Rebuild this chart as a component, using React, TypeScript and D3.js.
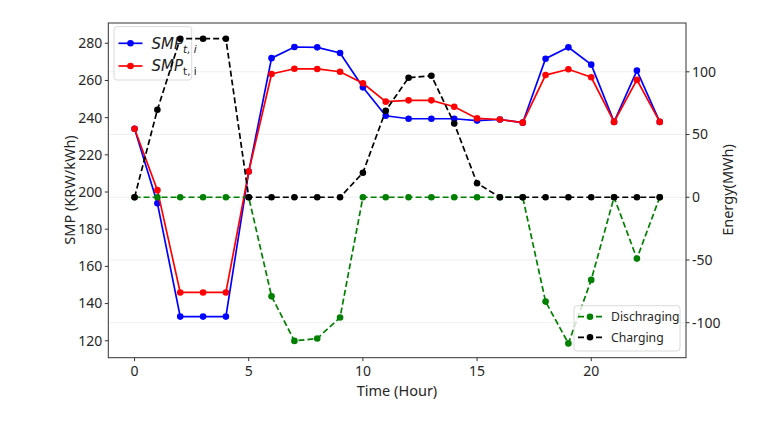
import * as d3 from 'd3';

// hours 0..23
const hours = d3.range(24);

// SMP (KRW/kWh), left axis
const smpForecast = [234, 194, 133, 133, 133, 211, 272, 278, 277.8, 274.8, 256.3, 241, 239.4, 239.4, 239.4, 238.4, 239, 237.3, 271.7, 277.8, 268.5, 237.7, 265.3, 237.7];
const smpActual = [234, 201, 146, 146, 146, 211, 263.5, 266.3, 266.2, 264.7, 258.5, 248.6, 249.3, 249.3, 245.9, 239.6, 239, 237.3, 262.9, 266, 261.7, 237.7, 260.3, 237.7];

// Energy (MWh), right axis
const discharging = [0, 0, 0, 0, 0, 0, -79, -114.5, -112.6, -95.8, 0, 0, 0, 0, 0, 0, 0, 0, -83.2, -116.5, -65.9, 0, -48.9, 0];
const charging = [0, 69.8, 126.4, 126.4, 126.4, 0, 0, 0, 0, 0, 19.5, 69, 95.3, 96.9, 58.8, 11.2, 0, 0, 0, 0, 0, 0, 0, 0];

const xTicks = [0, 5, 10, 15, 20];
const leftTicks = [120, 140, 160, 180, 200, 220, 240, 260, 280];
const rightTicks = [-100, -50, 0, 50, 100];

const W = 776;
const H = 421;
const font = '"Noto Sans", "Open Sans", sans-serif';

export default function App() {
  const left = 108.3, right = 686, top = 23, bottom = 357.7;
  const x = d3.scaleLinear().domain([-1.15, 24.15]).range([left, right]);
  const yL = d3.scaleLinear().domain([110.9, 290.9]).range([bottom, top]);
  const yR = d3.scaleLinear().domain([-127.9, 138.9]).range([bottom, top]);

  const lineL = d3.line<number>().x((_, i) => x(hours[i])).y((d) => yL(d));
  const lineR = d3.line<number>().x((_, i) => x(hours[i])).y((d) => yR(d));

  const series = (vals: number[], gen: d3.Line<number>, y: d3.ScaleLinear<number, number>, color: string, dashed: boolean) => (
    <g>
      <path d={gen(vals) || ''} fill="none" stroke={color} strokeWidth={1.7} strokeDasharray={dashed ? '6 3' : undefined} />
      {vals.map((v, i) => (
        <circle key={i} cx={x(hours[i])} cy={y(v)} r={3.3} fill={color} />
      ))}
    </g>
  );

  const legendItem = (lx: number, ly: number, color: string, dashed: boolean) => (
    <g>
      <line x1={lx} x2={lx + 24} y1={ly} y2={ly} stroke={color} strokeWidth={1.7} strokeDasharray={dashed ? '6 3' : undefined} />
      <circle cx={lx + 12} cy={ly} r={3.3} fill={color} />
    </g>
  );

  return (
    <svg width={W} height={H} style={{ position: 'absolute', left: 0, top: 0, background: '#fff' }} fontFamily={font}>
      {/* grid from right axis */}
      {rightTicks.map((t) => (
        <line key={t} x1={left} x2={right} y1={yR(t)} y2={yR(t)} stroke="#d8d8d8" strokeWidth={0.8} strokeDasharray="1 1" />
      ))}

      {series(smpForecast, lineL, yL, '#0000ff', false)}
      {series(smpActual, lineL, yL, '#ff0000', false)}

      {/* left legend */}
      <rect x={114} y={26.7} width={77.7} height={53.3} rx={3} fill="#fff" fillOpacity={0.8} stroke="#d0d0d0" strokeWidth={0.8} />
      {legendItem(118.5, 43.3, '#0000ff', false)}
      {legendItem(118.5, 66, '#ff0000', false)}
      <text x={151.5} y={48.5} fontSize={15} fill="#222" fontStyle="italic" fontFamily="'DejaVu Sans', sans-serif">
        SMP<tspan fontSize={10.5} dy={4}>t, i</tspan>
      </text>
      <text x={151.5} y={71.2} fontSize={15} fill="#222" fontFamily="'DejaVu Sans', sans-serif">
        <tspan fontStyle="italic">SMP</tspan><tspan fontSize={10.5} dy={4}>t, i</tspan>
      </text>

      {series(discharging, lineR, yR, '#008000', true)}
      {series(charging, lineR, yR, '#000000', true)}

      {/* frame */}
      <rect x={left} y={top} width={right - left} height={bottom - top} fill="none" stroke="#333" strokeWidth={1} />

      {/* x axis */}
      {xTicks.map((t) => (
        <g key={t}>
          <line x1={x(t)} x2={x(t)} y1={bottom} y2={bottom + 3.5} stroke="#333" />
          <text x={x(t)} y={bottom + 18} fontSize={14} textAnchor="middle" fill="#262626">{t}</text>
        </g>
      ))}
      <text x={397} y={396} fontSize={14.5} textAnchor="middle" fill="#262626">Time (Hour)</text>

      {/* left axis */}
      {leftTicks.map((t) => (
        <g key={t}>
          <line x1={left - 3.5} x2={left} y1={yL(t)} y2={yL(t)} stroke="#333" />
          <text x={left - 6} y={yL(t)} dy="0.35em" fontSize={14} textAnchor="end" fill="#262626">{t}</text>
        </g>
      ))}
      <text transform={`translate(75,190) rotate(-90)`} fontSize={14.5} textAnchor="middle" fill="#262626">SMP (KRW/kWh)</text>

      {/* right axis */}
      {rightTicks.map((t) => (
        <g key={t}>
          <line x1={right} x2={right + 3.5} y1={yR(t)} y2={yR(t)} stroke="#333" />
          <text x={right + 6} y={yR(t)} dy="0.35em" fontSize={14} textAnchor="start" fill="#262626">{t}</text>
        </g>
      ))}
      <text transform={`translate(733,190) rotate(-90)`} fontSize={14.5} textAnchor="middle" fill="#262626">Energy(MWh)</text>

      {/* right legend */}
      <rect x={574} y={305.7} width={106} height={45.3} rx={3} fill="#fff" fillOpacity={0.8} stroke="#d0d0d0" strokeWidth={0.8} />
      {legendItem(578, 316.7, '#008000', true)}
      {legendItem(578, 337.3, '#000000', true)}
      <text x={611} y={316.7} dy="0.35em" fontSize={12.2} fill="#262626">Dischraging</text>
      <text x={611} y={337.3} dy="0.35em" fontSize={12.2} fill="#262626">Charging</text>
    </svg>
  );
}
